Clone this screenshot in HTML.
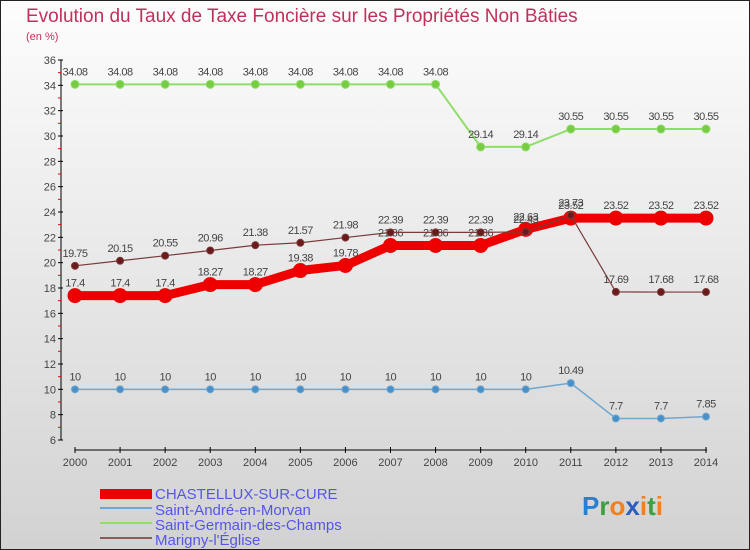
<!DOCTYPE html>
<html><head><meta charset="utf-8"><style>
body{margin:0;width:750px;height:550px;overflow:hidden;font-family:"Liberation Sans",sans-serif}
svg{display:block}
</style></head><body>
<svg id="c" width="750" height="550" xmlns="http://www.w3.org/2000/svg">
<defs><linearGradient id="bg" x1="0" y1="0" x2="0" y2="1"><stop offset="0" stop-color="#fdfdfd"/><stop offset="1" stop-color="#d2d2d2"/></linearGradient></defs>
<rect x="0.5" y="0.5" width="749" height="549" fill="url(#bg)" stroke="#222"/>
<text x="26" y="22" font-size="19" fill="#c0305a">Evolution du Taux de Taxe Foncière sur les Propriétés Non Bâties</text>
<text x="26" y="40" font-size="11" fill="#c0305a">(en %)</text>
<g id="axes"></g><g id="series"></g>
<g font-size="15" fill="#5555ee">
<rect x="100" y="489" width="52" height="10" fill="#e00"/>
<text x="155" y="499">CHASTELLUX-SUR-CURE</text>
<rect x="100" y="507" width="52" height="2" fill="#6ea7d0"/>
<text x="155" y="515">Saint-André-en-Morvan</text>
<rect x="100" y="522" width="52" height="2" fill="#8fdd6a"/>
<text x="155" y="530">Saint-Germain-des-Champs</text>
<rect x="100" y="537" width="52" height="2" fill="#8b5a5a"/>
<text x="155" y="545">Marigny-l'Église</text>
</g>
<g font-size="26" font-weight="bold">
<text x="582" y="515"><tspan fill="#2a7fd0">P</tspan><tspan fill="#3aa040">r</tspan><tspan fill="#f08020">o</tspan><tspan fill="#2a5fc0">x</tspan><tspan fill="#f08020">i</tspan><tspan fill="#3aa040">t</tspan><tspan fill="#f08020">i</tspan></text>
</g>
</svg>
<script>
const years=[2000,2001,2002,2003,2004,2005,2006,2007,2008,2009,2010,2011,2012,2013,2014];
const yTicks=[6,8,10,12,14,16,18,20,22,24,26,28,30,32,34,36];
const chastellux=[17.4,17.4,17.4,18.27,18.27,19.38,19.78,21.36,21.36,21.36,22.63,23.52,23.52,23.52,23.52];
const saintAndre=[10,10,10,10,10,10,10,10,10,10,10,10.49,7.7,7.7,7.85];
const saintGermain=[34.08,34.08,34.08,34.08,34.08,34.08,34.08,34.08,34.08,29.14,29.14,30.55,30.55,30.55,30.55];
const marigny=[19.75,20.15,20.55,20.96,21.38,21.57,21.98,22.39,22.39,22.39,22.43,23.73,17.69,17.68,17.68];
const NS="http://www.w3.org/2000/svg";
const X=i=>75+i*(706-75)/(years.length-1);
const Y=v=>440-(v-6)*(380/30);
function mk(p,t,a){const e=document.createElementNS(NS,t);for(const k in a)e.setAttribute(k,a[k]);p.appendChild(e);return e;}
const ax=document.getElementById('axes');
let yl=mk(ax,'line',{x1:61,y1:60,x2:61,y2:440,stroke:'#000'});


yTicks.forEach(v=>{
 mk(ax,'line',{x1:58,y1:Y(v),x2:63,y2:Y(v),stroke:'#000'});
 mk(ax,'line',{x1:58,y1:Y(v+1),x2:61,y2:Y(v+1),stroke:v<36?'#e00':'none'});
 const t=mk(ax,'text',{x:56,y:Y(v)+4,'text-anchor':'end','font-size':11,fill:'#444'});t.textContent=v;
 
 
});
let xl=mk(ax,'line',{x1:75,y1:450,x2:707,y2:450,stroke:'#000'});


years.forEach((y,i)=>{
 mk(ax,'line',{x1:X(i),y1:447,x2:X(i),y2:453,stroke:'#000'});
 const t=mk(ax,'text',{x:X(i),y:466,'text-anchor':'middle','font-size':11,fill:'#444'});t.textContent=y;
 
 
});
const sg=document.getElementById('series');
function series(name,vals,color,w,r,dot){
 const g=mk(sg,'g',{});
 
 
 mk(g,'polyline',{points:vals.map((v,i)=>X(i)+','+Y(v)).join(' '),fill:'none',stroke:color,'stroke-width':w,'stroke-linejoin':'round'});
 vals.forEach((v,i)=>{
  const c=mk(g,'circle',{cx:X(i),cy:Y(v),r:r,fill:dot,stroke:color,'stroke-width':1});
  
  
  const t=mk(g,'text',{x:X(i),y:Y(v)-9,'text-anchor':'middle','font-size':11,fill:'#444','letter-spacing':'-0.5'});t.textContent=v;
  
  
 });
}
series('saint-germain-series',saintGermain,'#8fdd6a',2,4,'#77cc44');
series('saint-andre-series',saintAndre,'#6ea7d0',1.5,3.5,'#4a90c8');
series('chastellux-series',chastellux,'#e00',9,7,'#e00');
series('marigny-series',marigny,'#7a3a3a',1.2,3.5,'#6a1a1a');
</script>
</body></html>
